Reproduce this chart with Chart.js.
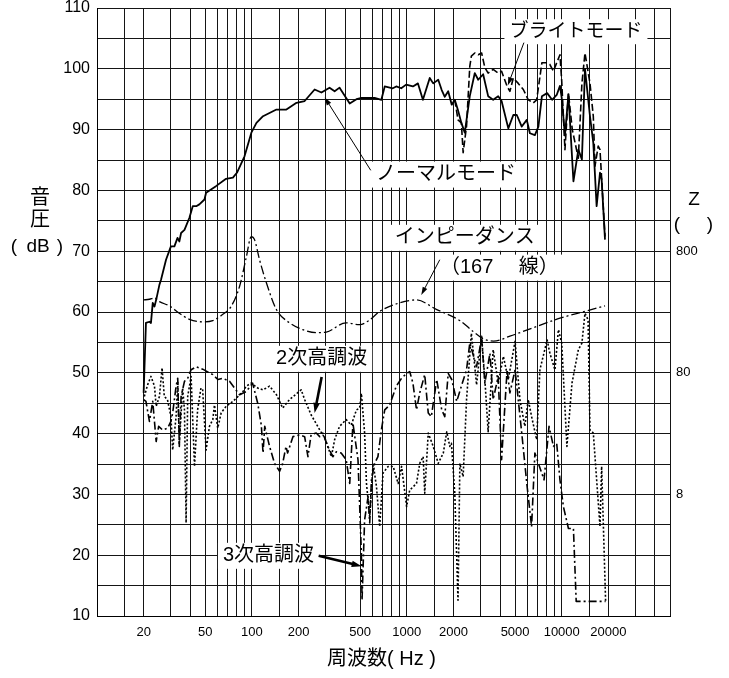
<!DOCTYPE html>
<html>
<head>
<meta charset="utf-8">
<script src="https://cdn.jsdelivr.net/npm/chart.js@4/dist/chart.umd.min.js"></script>
<style>
  html, body { margin: 0; padding: 0; background: #fff; }
  #wrap { width: 729px; height: 678px; }
</style>
</head>
<body>
<div id="wrap"><canvas id="c" width="729" height="678"></canvas></div>
<script>
// ---- frequency axis ----
const gridFreqs = [10,15,20,30,40,50,60,70,80,90,
                   100,150,200,300,400,500,600,700,800,900,
                   1000,1500,2000,3000,4000,5000,6000,7000,8000,9000,
                   10000,15000,20000,30000,40000,50000];
const freqLabels = [20,50,100,200,500,1000,2000,5000,10000,20000];
const zTicks = [8,80,800];

// ---- sound pressure, normal mode (Hz / dB) ----
const normalFreq = [20,20.7,21.8,22.3,22.9,23.5,24.1,25.3,25.9,27.9,
  30,31.6,33.1,34,34.9,36.7,39.5,41.5,43.7,45.8,
  49.4,50.6,58.6,68.1,75.4,80,89.6,99.2,107,118,
  144,167,194,219,254,281,317,342,368,428,
  473,510,576,620,685,720,812,855,920,990,
  1095,1180,1270,1406,1480,1595,1680,1758,1850,1950,
  2040,2140,2250,2367,2550,2747,2890,3110,3350,3610,
  3890,4090,4520,4870,5130,5520,5950,6230,6710,7070,
  7450,8050,8670,9280,9740,10000,10490,11050,11900,12800,
  13500,14130,15220,15990,16800,17660,18100,19030];
const normalDb = [46.7,58.2,58.4,58.2,61.5,60.9,62.0,64.5,65.3,68.6,
  70.8,70.8,72.2,71.6,73.0,73.5,75.5,77.4,77.4,77.7,
  78.5,79.6,80.7,81.9,82.1,82.9,85.6,89.5,91.1,92.2,
  93.3,93.3,94.4,94.7,96.6,96.1,96.9,96.3,96.9,94.3,
  95.0,95.2,95.2,95.2,94.9,97.1,96.8,97.1,96.8,97.4,
  97.1,97.6,94.9,98.5,97.6,98.2,96.5,95.4,96.3,94.1,
  94.9,93.2,91.1,89.5,95.5,99.3,98.2,99.1,95.5,94.9,
  95.5,94.7,90.2,92.4,92.4,90.5,91.6,89.4,89.1,90.5,
  95.5,96.0,94.9,95.7,97.2,95.2,89.0,95.8,81.5,86.7,
  85.1,100.0,92.2,87.8,77.4,82.9,81.8,71.9];

// ---- sound pressure, bright mode (splits from normal above 2 kHz) ----
const brightFreq = [2040,2140,2250,2310,2430,2550,2610,2747,2890,3040,
  3190,3350,3610,3890,4090,4440,4630,4870,5240,5650,
  6080,6550,6890,7450,8050,8390,8840,9280,9740,10000,
  10490,11050,11700,12800,13500,14130,15220,15990,16400,17200,
  17660,19030];
const brightDb = [94.9,91.6,91.1,86.2,90.6,100.4,102.1,102.6,102.3,102.6,
  100.2,99.3,99.9,99.3,99.6,97.1,96.3,98.5,97.6,96.6,
  94.9,94.4,94.9,101.0,101.0,100.7,99.6,101.0,102.3,98.0,
  86.7,96.0,90.0,85.3,97.6,102.6,97.6,92.2,84.0,87.3,
  86.7,72.4];

// ---- impedance (Hz / ohm, right-hand log axis) ----
const impFreq = [20,21.8,23.5,25.3,29.3,34,39.5,48.1,55.9,64.9,
  73.4,83.2,91.8,99,104,112,124,144,175,213,
  260,302,405,496,576,668,900,1150,1560,2200,
  2680,3130,3630,4630,6550,9740,14130,19030];
const impOhm = [318,322,330,308,284,247,220,210,215,242,
  281,410,705,1054,996,681,440,265,206,181,
  171,173,206,199,218,256,301,318,265,215,
  175,152,146,160,188,225,256,284];

// ---- 2nd harmonic distortion (Hz / dB) ----
const h2Freq = [20.2,21.2,22.3,23.5,24.1,25.3,26.3,27.2,28.5,30,
  30.8,32.4,33.2,34,35.7,36.7,37.6,38.5,40.5,42.6,
  44.6,46.9,48.1,50.6,53.2,55.9,57.3,60.2,63.3,68.2,
  75.4,81.3,87.5,91.9,98.9,109,118,130,144,158,
  175,208,219,241,274,295,326,342,368,406,
  438,473,496,509,534,549,576,606,637,668,
  702,757,816,879,925,997,1044,1155,1212,1275,
  1305,1375,1480,1595,1720,1810,1894,1940,2040,2140,
  2200,2310,2430,2610,2747,2820,3040,3190,3350,3610,
  3890,4200,4520,5000,5370,5780,6080,6390,6890,7230,
  8050,8390,9040,9520,10000,10800,11650,12800,13500,14130,
  14800,15220,15990,17660,18100,19200];
const h2Db = [46.1,48.0,49.4,47.8,44.5,46.1,50.8,46.1,45.6,42.8,
  37.3,42.8,48.6,38.2,47.5,43.9,25.3,46.1,49.4,34.6,
  43.9,47.5,47.2,37.3,41.2,42.3,44.7,40.9,43.4,44.5,
  45.3,46.1,46.9,47.8,48.3,47.5,47.2,47.8,46.4,44.2,
  45.6,47.2,45.6,43.1,40.6,39.3,36.2,39.0,41.2,42.3,
  41.4,43.9,44.2,46.6,40.1,31.8,26.3,35.1,31.3,24.7,
  33.5,34.6,34.6,31.8,34.6,28.0,30.7,31.8,35.1,36.2,
  30.2,40.1,37.9,35.1,36.8,40.3,37.9,38.4,30.2,12.6,
  35.1,32.9,45.6,56.5,51.0,48.0,56.0,48.9,40.3,53.8,
  48.3,52.7,48.9,55.2,45.6,41.2,45.6,42.8,39.0,50.5,
  55.4,53.2,50.5,57.1,54.9,37.9,48.3,53.8,54.9,59.8,
  58.7,40.6,40.1,24.7,34.6,12.4];

// ---- 3rd harmonic distortion (Hz / dB) ----
const h3Freq = [20,20.7,21.8,22.9,24.1,25,26.5,28.6,30,30.8,
  32.4,33.2,34,34.9,36.7,38.5,40.5,43.7,48.1,55.9,
  60.3,64.9,71.7,77.2,83.2,91.8,101,109,115,118,
  121,130,140,151,158,166,170,184,203,219,
  230,241,260,274,287,309,333,350,377,406,
  428,449,484,509,514,534,562,576,591,620,
  651,685,720,775,855,925,997,1044,1095,1155,
  1212,1305,1375,1440,1560,1680,1758,1850,1950,2100,
  2250,2430,2550,2820,3040,3190,3440,3610,3890,4090,
  4440,4630,5000,5520,5950,6390,6710,7070,7690,8280,
  8840,9280,9740,10250,11050,11900,12400,19200];
const h3Db = [45.6,45.3,42.0,45.3,38.7,41.2,40.6,40.9,42.0,43.4,
  47.8,49.1,37.9,46.1,48.6,49.1,50.5,51.0,50.6,49.7,
  48.9,49.1,48.6,47.5,46.4,46.9,48.3,45.0,41.4,36.8,
  41.2,37.9,35.1,33.8,35.1,37.9,36.8,39.5,39.8,39.5,
  36.2,39.8,40.1,39.5,40.1,37.9,36.2,37.0,36.8,35.7,
  31.8,41.7,35.7,20.3,12.6,25.8,29.6,25.3,32.4,35.1,
  36.2,40.6,43.9,44.7,47.8,49.1,49.9,50.2,48.3,43.9,
  46.7,49.7,43.4,42.8,48.9,43.9,42.8,49.9,48.9,45.3,
  47.8,50.5,54.9,51.0,55.7,48.3,53.2,45.6,49.4,35.7,
  50.5,46.7,50.5,40.1,31.8,24.7,36.8,35.1,32.4,41.2,
  37.9,38.4,32.4,28.0,24.4,24.4,12.4,12.4];

const LATIN = "'Liberation Sans', Arial, sans-serif";
const MIXED = "'Liberation Sans', 'Noto Sans CJK JP', sans-serif";

// Curve callouts, anchored in (Hz, dB)
const callouts = [
  { text: 'ブライトモード', f: 12350, db: 106.1, size: 19, from: [5700, 104.3], to: [4490, 97.3], w: 1, head: 8 },
  { text: 'ノーマルモード', f: 1790, db: 82.6, size: 20, from: [585, 83.3], to: [295, 95.3], w: 1, head: 8 },
  { text: 'インピーダンス', f: 2367, db: 72.2, size: 20, from: [1632, 68.6], to: [1240, 62.8], w: 1, head: 8 },
  { text: '（167　 線）', f: 3960, db: 67.3, size: 20 },
  { text: '2次高調波', f: 282, db: 52.3, size: 20, from: [282, 49.3], to: [254, 43.4], w: 2.6, head: 10 },
  { text: '3次高調波', f: 128, db: 19.9, size: 20, from: [269.5, 19.9], to: [511, 18.2], w: 2.6, head: 10 }
];

function drawArrow(ctx, x1, y1, x2, y2, w, hl) {
  const a = Math.atan2(y2 - y1, x2 - x1);
  const hw = hl * 0.32;
  ctx.lineWidth = w;
  ctx.beginPath();
  ctx.moveTo(x1, y1);
  ctx.lineTo(x2 - hl * 0.7 * Math.cos(a), y2 - hl * 0.7 * Math.sin(a));
  ctx.stroke();
  ctx.beginPath();
  ctx.moveTo(x2, y2);
  ctx.lineTo(x2 - hl * Math.cos(a) + hw * Math.sin(a), y2 - hl * Math.sin(a) - hw * Math.cos(a));
  ctx.lineTo(x2 - hl * Math.cos(a) - hw * Math.sin(a), y2 - hl * Math.sin(a) + hw * Math.cos(a));
  ctx.closePath();
  ctx.fill();
}

const overlay = {
  id: 'overlay',
  beforeDatasetsDraw(chart) {
    const { ctx, scales: { x, y } } = chart;
    ctx.save();
    ctx.fillStyle = '#fff';
    callouts.forEach(c => {
      ctx.font = `${c.size}px ${MIXED}`;
      const w = ctx.measureText(c.text).width;
      const px = x.getPixelForValue(c.f), py = y.getPixelForValue(c.db);
      ctx.fillRect(px - w / 2 - 5, py - c.size / 2 - 3, w + 10, c.size + 6);
    });
    ctx.restore();
  },
  afterDatasetsDraw(chart) {
    const { ctx, scales: { x, y } } = chart;
    ctx.save();
    ctx.fillStyle = '#000';
    ctx.strokeStyle = '#000';
    ctx.textAlign = 'center';
    ctx.textBaseline = 'middle';
    callouts.forEach(c => {
      ctx.font = `${c.size}px ${MIXED}`;
      ctx.fillText(c.text, x.getPixelForValue(c.f), y.getPixelForValue(c.db));
      if (c.from) {
        drawArrow(ctx,
          x.getPixelForValue(c.from[0]), y.getPixelForValue(c.from[1]),
          x.getPixelForValue(c.to[0]), y.getPixelForValue(c.to[1]), c.w, c.head);
      }
    });
    ctx.restore();
  },
  afterDraw(chart) {
    const { ctx, chartArea: ca } = chart;
    ctx.save();
    ctx.fillStyle = '#000';
    ctx.textAlign = 'center';
    ctx.textBaseline = 'middle';
    // left axis title
    ctx.font = `20px ${MIXED}`;
    ctx.fillText('音', ca.left - 57, ca.top + 190);
    ctx.fillText('圧', ca.left - 57, ca.top + 212);
    ctx.font = `19px ${LATIN}`;
    ctx.fillText('(', ca.left - 83, ca.top + 239);
    ctx.fillText('dB', ca.left - 59, ca.top + 239);
    ctx.fillText(')', ca.left - 37, ca.top + 239);
    // right axis title
    ctx.fillText('Z', ca.right + 24, ca.top + 192);
    ctx.fillText('(', ca.right + 7, ca.top + 217);
    ctx.fillText(')', ca.right + 40, ca.top + 217);
    // bottom axis title
    ctx.font = `20px ${MIXED}`;
    ctx.fillText('周波数( Hz )', (ca.left + ca.right) / 2 - 2, ca.bottom + 43);
    ctx.restore();
  }
};

// vertical axes: keep the plot edge where the layout puts it
const noEdgePadding = s => { s.paddingTop = 0; s.paddingBottom = 0; };

const pts = (fs, vs) => fs.map((f, i) => ({ x: f, y: vs[i] }));

new Chart(document.getElementById('c'), {
  type: 'line',
  data: {
    datasets: [
      { label: 'ブライトモード', data: pts(brightFreq, brightDb), borderColor: '#000', borderWidth: 1.6, borderDash: [7, 3], yAxisID: 'y' },
      { label: 'ノーマルモード', data: pts(normalFreq, normalDb), borderColor: '#000', borderWidth: 1.8, yAxisID: 'y' },
      { label: 'インピーダンス', data: pts(impFreq, impOhm), borderColor: '#000', borderWidth: 1.3, borderDash: [9, 3, 2, 3], yAxisID: 'y2', cubicInterpolationMode: 'monotone' },
      { label: '2次高調波', data: pts(h2Freq, h2Db), borderColor: '#000', borderWidth: 1.6, borderDash: [2, 2], yAxisID: 'y' },
      { label: '3次高調波', data: pts(h3Freq, h3Db), borderColor: '#000', borderWidth: 1.6, borderDash: [8, 3, 2, 3], yAxisID: 'y' }
    ]
  },
  options: {
    responsive: false,
    animation: false,
    devicePixelRatio: 1,
    layout: { padding: { top: 8, left: 0, right: 0, bottom: 0 } },
    plugins: { legend: { display: false }, tooltip: { enabled: false } },
    elements: { point: { radius: 0 }, line: { tension: 0, borderJoinStyle: 'round' } },
    scales: {
      x: {
        type: 'logarithmic', min: 10, max: 50000,
        afterBuildTicks: s => { s.ticks = gridFreqs.map(v => ({ value: v })); },
        afterFit: s => { s.height = 62; s.paddingLeft = 0; s.paddingRight = 0; },
        grid: { color: '#151515', lineWidth: 1, drawTicks: false },
        border: { color: '#000', width: 1 },
        ticks: {
          autoSkip: false, maxRotation: 0, minRotation: 0, padding: 9, color: '#000',
          font: { family: LATIN, size: 13 },
          callback: v => freqLabels.includes(v) ? String(v) : ''
        }
      },
      y: {
        type: 'linear', position: 'left', min: 10, max: 110,
        afterFit: s => { s.width = 97; noEdgePadding(s); },
        grid: { color: '#151515', lineWidth: 1, drawTicks: false },
        border: { color: '#000', width: 1 },
        ticks: {
          stepSize: 5, padding: 7, color: '#000',
          font: { family: LATIN, size: 16, lineHeight: 1 },
          callback: v => (v % 10 === 0 ? String(v) : '')
        }
      },
      y2: {
        type: 'logarithmic', position: 'right', min: 0.8, max: 80000,
        afterBuildTicks: s => { s.ticks = zTicks.map(v => ({ value: v })); },
        afterFit: s => { s.width = 59; noEdgePadding(s); },
        grid: { display: false, drawTicks: false },
        border: { display: false },
        ticks: {
          padding: 6, color: '#000',
          font: { family: LATIN, size: 13, lineHeight: 1 },
          callback: v => String(v)
        }
      }
    }
  },
  plugins: [overlay]
});
</script>
</body>
</html>
